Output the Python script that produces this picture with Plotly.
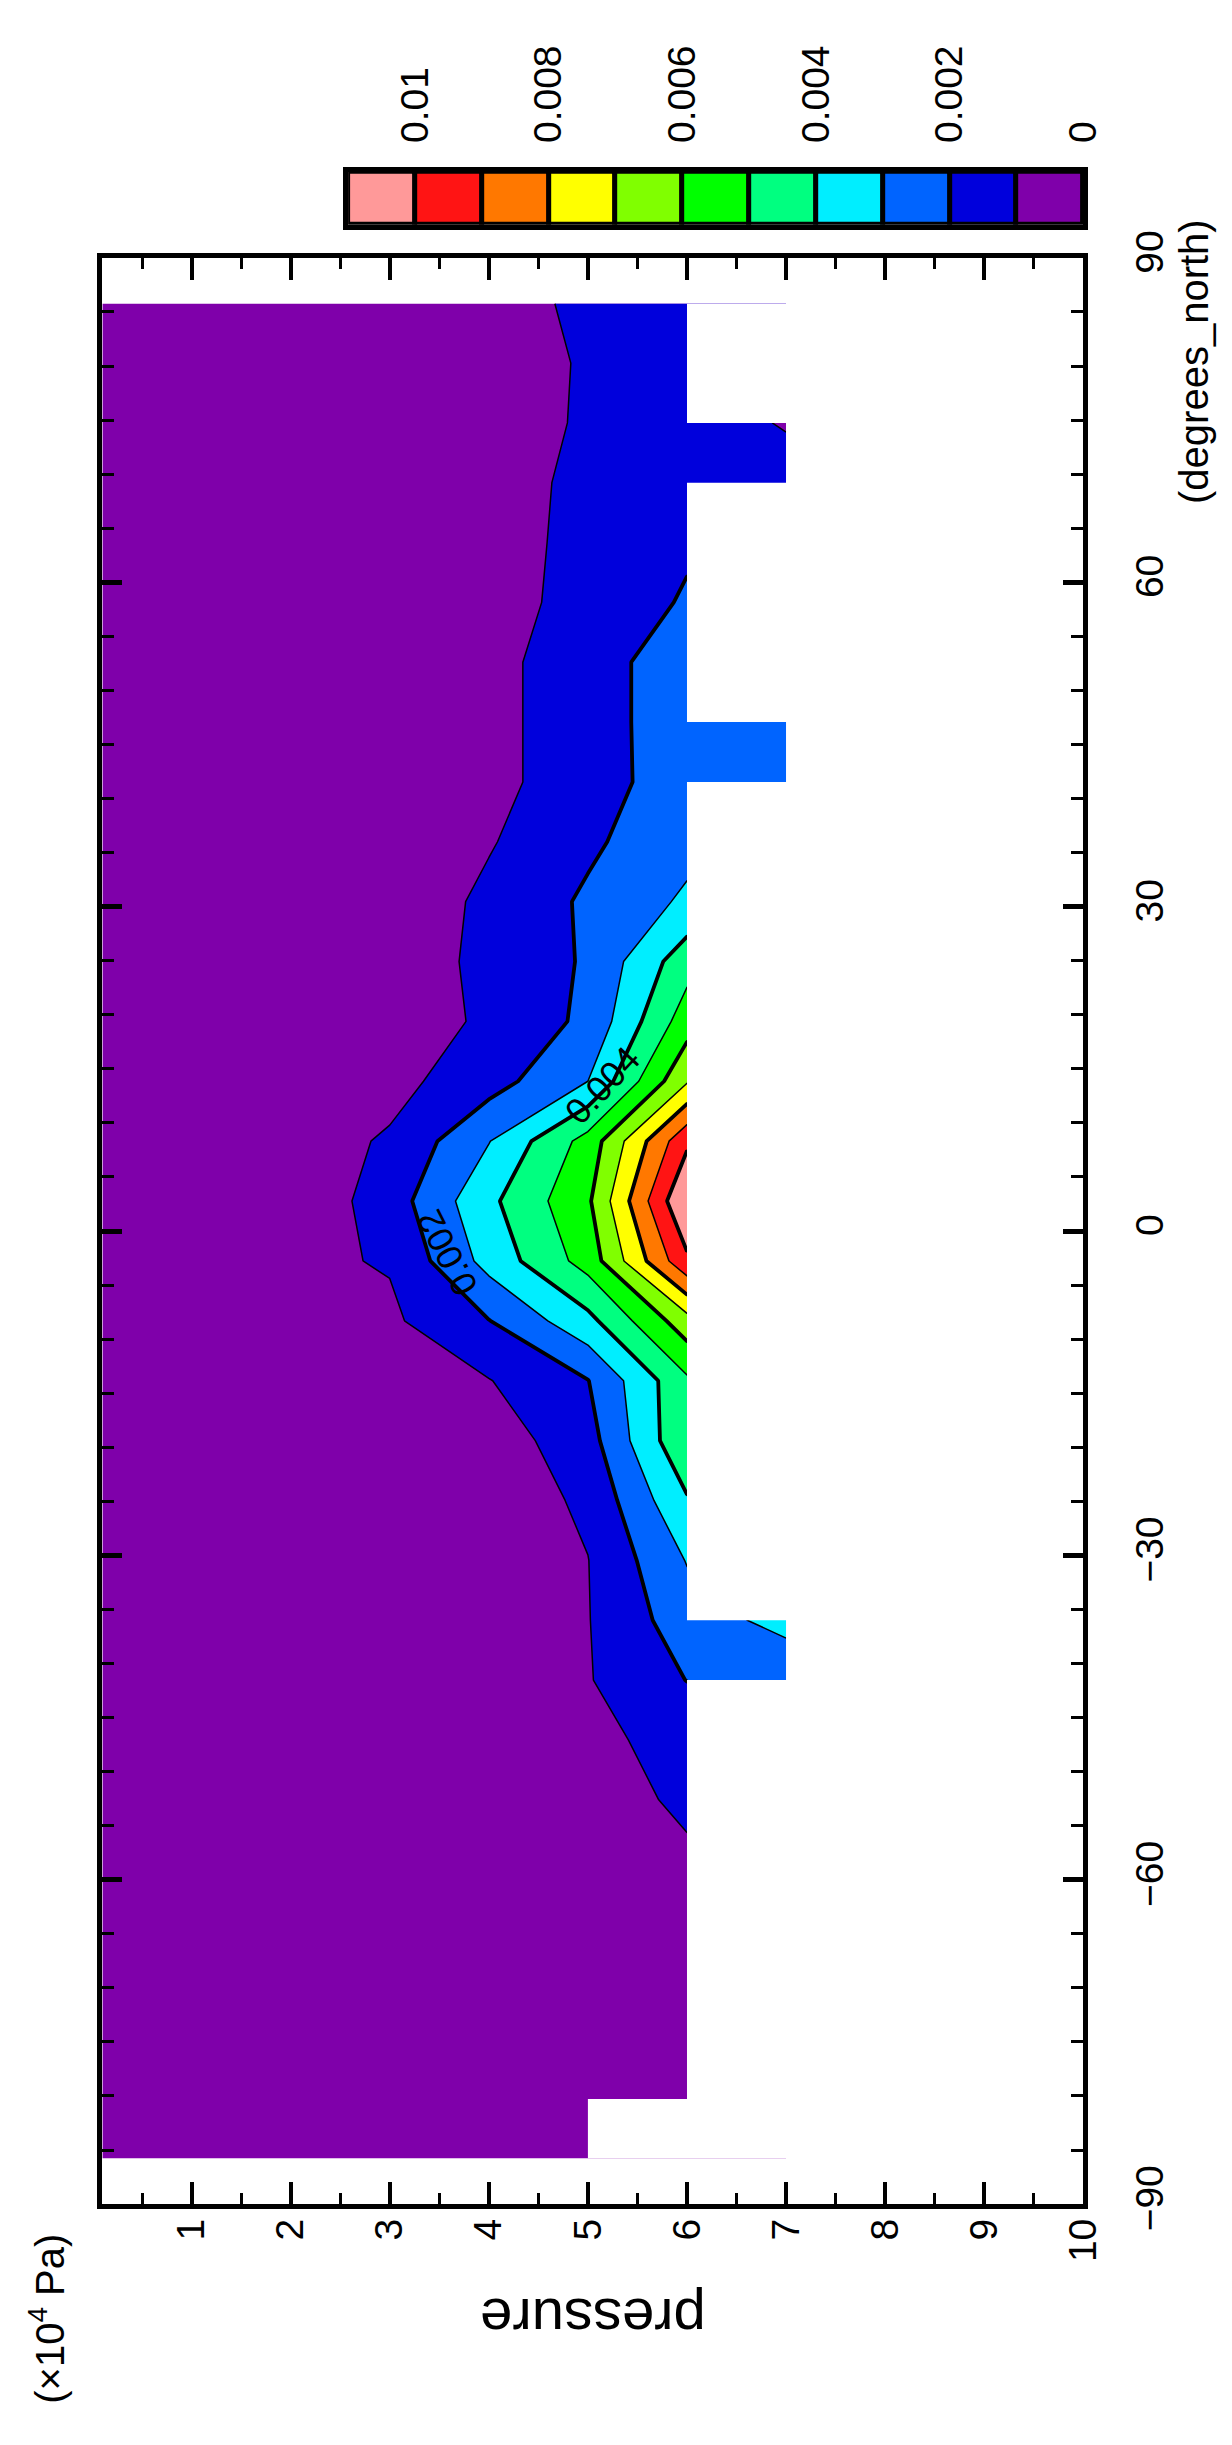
import plotly.graph_objects as go

# ---------------- data (latitude south->north, pressure in 1e4 Pa) ----------------
lat = [-85.76, -80.27, -74.74, -69.21, -63.68, -58.14, -52.61, -47.07, -41.53, -36.00,
       -30.46, -24.92, -19.39, -13.85, -8.31, -2.77, 2.77, 8.31, 13.85, 19.39,
       24.92, 30.46, 36.00, 41.53, 47.07, 52.61, 58.14, 63.68, 69.21, 74.74, 80.27, 85.76]
pressure = [0.1, 1.0, 2.0, 2.5, 3.0, 4.0, 5.0, 6.0, 7.0]

q_p01 = [0.000002, 0.000002, 0.000002, 0.000002, 0.000003, 0.000003, 0.000003, 0.000003,
         0.000003, 0.000003, 0.000003, 0.000003, 0.000003, 0.000003, 0.000003, 0.000003,
         0.000003, 0.000003, 0.000003, 0.000003, 0.000003, 0.000003, 0.000003, 0.000003,
         0.000003, 0.000003, 0.000003, 0.000003, 0.000002, 0.000002, 0.000002, 0.000002]
q_p1 = [0.000008, 0.000009, 0.00001, 0.000011, 0.000012, 0.000013, 0.000014, 0.000015,
        0.000016, 0.000016, 0.000015, 0.000014, 0.000013, 0.000013, 0.000014, 0.000015,
        0.000015, 0.000014, 0.000013, 0.000013, 0.000014, 0.000015, 0.000016, 0.000017,
        0.000018, 0.000018, 0.000018, 0.000017, 0.000016, 0.000015, 0.000014, 0.000014]
q_p2 = [0.00002, 0.00003, 0.00004, 0.00005, 0.00005, 0.00006, 0.00006, 0.00006,
        0.00006, 0.00006, 0.00006, 0.00008, 0.0001, 0.00016, 0.00028, 0.0005,
        0.00046, 0.00044, 0.00022, 0.0001, 0.0001, 0.00011, 0.00012, 0.00012,
        0.00012, 0.00012, 0.00012, 0.00015, 0.00016, 0.00016, 0.00016, 0.00016]
q_p25 = [0.00002, 0.00003, 0.00004, 0.00006, 0.00007, 0.00007, 0.00007, 0.00007,
         0.00007, 0.00007, 0.00007, 0.0001, 0.00013, 0.00026, 0.0005, 0.00094,
         0.00085, 0.00082, 0.0004, 0.00014, 0.00014, 0.00016, 0.00018, 0.00018,
         0.00018, 0.00018, 0.00018, 0.00022, 0.00024, 0.00024, 0.00024, 0.00024]
q_p3 = [0.00003, 0.00005, 0.00007, 0.0001, 0.0001, 0.0001, 0.0001, 0.0001,
        0.0001, 0.0001, 0.0001, 0.00015, 0.0002, 0.0004, 0.00083, 0.00107,
        0.00148, 0.00111, 0.0007, 0.00023, 0.00023, 0.00028, 0.0003, 0.0003,
        0.0003, 0.0003, 0.0003, 0.0004, 0.0004, 0.0004, 0.0004, 0.0004]
q_p4 = [0.00005, 0.0001, 0.00015, 0.0002, 0.00025, 0.0003, 0.0003, 0.0003,
        0.0003, 0.0003, 0.0003, 0.00033, 0.00047, 0.00096, 0.00197, 0.00334,
        0.00377, 0.00296, 0.00158, 0.00123, 0.00133, 0.00122, 0.00092, 0.00067,
        0.00066, 0.00066, 0.0006, 0.0008, 0.00079, 0.00077, 0.00076, 0.00078]
q_p5 = [0.0001, 0.0002, 0.0003, 0.0004, 0.0005, 0.0006, 0.0007, 0.0008,
        0.00094, 0.00096, 0.00098, 0.0012, 0.0016, 0.00197, 0.0037, 0.0054,
        0.00583, 0.00538, 0.0030, 0.0022, 0.0021, 0.00215, 0.00183, 0.00163,
        0.00165, 0.00165, 0.00135, 0.00114, 0.00112, 0.00106, 0.00105, 0.00111]
q_p6 = [None, 0.0004, 0.0005, 0.0006, 0.0007, 0.0009, 0.00112, 0.00129,
        0.00202, 0.00255, 0.00305, 0.0039, 0.0049, 0.00483, 0.0066, 0.0098,
        0.01105, 0.0098, 0.0069, 0.00553, 0.0046, 0.00316, 0.0027, 0.00245,
        0.00245, 0.00245, 0.0021, 0.00187, 0.0017, 0.00168, 0.0014, 0.0014]
q_p7 = [None, None, None, None, None, None, None, None,
        0.00232, 0.00329, None, None, None, None, None, None,
        None, None, None, None, None, None, None, 0.0027,
        0.0026, None, None, None, 0.0016, 0.00089, None, None]

levels = [0.001, 0.002, 0.003, 0.004, 0.005, 0.006, 0.007, 0.008, 0.009, 0.010]
cbar_ticks = [0, 0.002, 0.004, 0.006, 0.008, 0.01]
cbar_ticktext = ['0', '0.002', '0.004', '0.006', '0.008', '0.01']
band_colors = ['#7f00aa', '#0000dc', '#0064ff', '#00eeff', '#00ff80', '#00ff00',
               '#80ff00', '#ffff00', '#ff7800', '#ff1414', '#ff9999']

# ---------------- build ----------------
columns = [q_p01, q_p1, q_p2, q_p25, q_p3, q_p4, q_p5, q_p6, q_p7]
z = [[col[j] for col in columns] for j in range(len(lat))]

# stepped colorscale: plotly samples fill bands at 0.05, 0.15, ... 0.95 and 1.0
cs = []
n = len(band_colors)
for k in range(n - 1):
    lo = k / (n - 1)
    hi = (k + 1) / (n - 1)
    cs.append([lo, band_colors[k]])
    cs.append([hi - (0.02 if k == n - 2 else 0.0001), band_colors[k]])
cs.append([1.0, band_colors[-1]])

font_family = 'Liberation Sans, Arial, Helvetica, sans-serif'
fig = go.Figure()

fig.add_trace(go.Contour(
    x=pressure, y=lat, z=z, connectgaps=True, colorscale=cs,
    contours=dict(start=levels[0], end=levels[-1], size=levels[1] - levels[0],
                  coloring='fill', showlines=True),
    line=dict(color='black', width=1.5, smoothing=0),
    showscale=False, hoverinfo='skip'))

fig.add_trace(go.Contour(
    x=pressure, y=lat, z=z, connectgaps=True,
    contours=dict(start=levels[1], end=levels[-1], size=2 * (levels[1] - levels[0]),
                  coloring='none'),
    line=dict(color='black', width=3.8, smoothing=0),
    showscale=False, hoverinfo='skip'))

# mask for missing data (below the lowest valid level at each latitude)
pmax = []
for j in range(len(lat)):
    valid = [pressure[i] for i in range(len(pressure)) if z[j][i] is not None]
    pmax.append(max(valid))
edge = pressure[-1] + 0.3
mx = [edge]
my = [lat[0]]
for j in range(len(lat) - 1):
    pb = min(pmax[j], pmax[j + 1])
    mx += [pb, pb]
    my += [lat[j], lat[j + 1]]
mx += [edge, edge]
my += [lat[-1], lat[0]]
fig.add_trace(go.Scatter(x=mx, y=my, mode='lines', fill='toself', fillcolor='white',
                         line=dict(width=0, color='white'), hoverinfo='skip'))

# colour bar drawn as boxes
edges = [0.0] + levels + [levels[-1] + (levels[1] - levels[0])]
mids = [(edges[i] + edges[i + 1]) / 2 for i in range(len(edges) - 1)]
widths = [edges[i + 1] - edges[i] for i in range(len(edges) - 1)]
fig.add_trace(go.Bar(x=mids, y=[1] * len(mids), width=widths, base=0,
                     marker=dict(color=band_colors, line=dict(color='black', width=5)),
                     xaxis='x2', yaxis='y2', hoverinfo='skip'))

W, H = 1232, 2445
fl, fr, ft, fb = 96, 1094, 227, 2218

fig.update_layout(
    width=W, height=H, margin=dict(l=0, r=0, t=0, b=0),
    paper_bgcolor='white', plot_bgcolor='white', showlegend=False, bargap=0,
    font=dict(family=font_family, color='black', size=39),
    xaxis=dict(domain=[fl / W, fr / W], anchor='y', range=[0.1, 10],
               showgrid=False, zeroline=False, showline=True, linewidth=5, linecolor='black',
               mirror='ticks', ticks='inside', ticklen=22, tickwidth=3.5, tickcolor='black',
               tick0=0, dtick=1, tickangle=-90, ticklabelstandoff=-6,
               tickfont=dict(size=39),
               minor=dict(ticks='inside', ticklen=11, tickwidth=2.5, tickcolor='black',
                          tick0=0, dtick=0.5, showgrid=False)),
    yaxis=dict(domain=[1 - fb / H, 1 - ft / H], anchor='x', side='right', range=[-90, 90],
               showgrid=False, zeroline=False, showline=True, linewidth=5, linecolor='black',
               mirror='ticks', ticks='inside', ticklen=20, tickwidth=5, tickcolor='black',
               tick0=0, dtick=30, tickangle=-90, ticklabelstandoff=28,
               tickfont=dict(size=39),
               minor=dict(ticks='inside', ticklen=12, tickwidth=2.5, tickcolor='black',
                          tick0=0, dtick=5, showgrid=False)),
    xaxis2=dict(domain=[346 / W, fr / W], anchor='y2', side='top', range=[edges[-1], 0],
                showgrid=False, zeroline=False, showline=True, mirror=True, linewidth=5,
                linecolor='black', ticks='', tickvals=cbar_ticks, ticktext=cbar_ticktext,
                tickangle=-90, ticklabelstandoff=16, tickfont=dict(size=39)),
    yaxis2=dict(domain=[1 - 193 / H, 1 - 139 / H], anchor='x2', range=[0, 1],
                showgrid=False, zeroline=False, showline=True, mirror=True, linewidth=5,
                linecolor='black', ticks='', showticklabels=False),
)

annotations = [
    dict(text='pressure', x=595 / W, y=1 - 2336 / H, xref='paper', yref='paper',
         xanchor='center', yanchor='middle',
         showarrow=False, textangle=180, font=dict(size=58)),
    dict(text='(×10<sup>4</sup> Pa)', x=40 / W, y=1 - 2335 / H, xref='paper', yref='paper',
         xanchor='center', yanchor='middle',
         showarrow=False, textangle=-90, font=dict(size=40)),
    dict(text='(degrees_north)', x=1206 / W, y=1 - 333 / H, xref='paper', yref='paper',
         xanchor='center', yanchor='middle',
         showarrow=False, textangle=-90, font=dict(size=40)),
    dict(text='0.004', x=5.14, y=13.5, xref='x', yref='y', showarrow=False,
         xanchor='center', yanchor='middle', textangle=-47, font=dict(size=36)),
    dict(text='0.002', x=3.58, y=-2.0, xref='x', yref='y', showarrow=False,
         xanchor='center', yanchor='middle', textangle=-117, font=dict(size=36)),
]
fig.update_layout(annotations=annotations)

fig.write_html("out.html")
